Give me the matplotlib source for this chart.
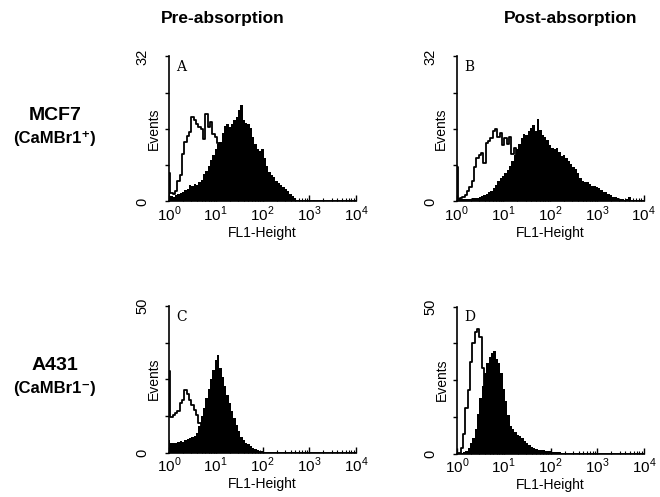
import numpy as np
import matplotlib
matplotlib.use("Agg")
import matplotlib.pyplot as plt

plt.rcParams['font.family'] = ['Liberation Sans', 'DejaVu Sans']
plt.rcParams['mathtext.fontset'] = 'custom'
plt.rcParams['mathtext.rm'] = 'Liberation Sans'

# channel positions in log10 decades (0 .. 4, 81 channels)
decades = np.linspace(0, 4, 81)

# panel A: MCF7, pre-absorption (open = control, filled = antibody)
a_open = [6.2, 1.8, 1.6, 2.4, 4.6, 5.8, 10.5, 13.2, 14.4, 15.3,
          18.6, 18.0, 17.2, 16.4, 16.0, 13.8, 19.2, 16.4, 17.6, 15.0,
          14.2, 13.0, 10.5, 7.5, 5.0, 3.4, 2.2, 1.5, 1.0, 0.7,
          0.5, 0.3, 0.2, 0.1, 0.1, 0.1, 0.0, 0.0, 0.0, 0.0,
          0.0, 0.0, 0.0, 0.0, 0.0, 0.0, 0.0, 0.0, 0.0, 0.0,
          0.0, 0.0, 0.0, 0.0, 0.0, 0.0, 0.0, 0.0, 0.0, 0.0,
          0.0, 0.0, 0.0, 0.0, 0.0, 0.0, 0.0, 0.0, 0.0, 0.0,
          0.0, 0.0, 0.0, 0.0, 0.0, 0.0, 0.0, 0.0, 0.0, 0.0, 0.0]
a_fill = [2.0, 1.2, 1.0, 1.5, 1.6, 1.8, 2.2, 2.5, 2.8, 3.6,
          3.5, 3.9, 3.6, 4.2, 4.8, 6.0, 6.8, 7.8, 9.2, 10.3,
          11.5, 12.6, 13.2, 15.2, 16.6, 17.2, 16.4, 17.1, 17.9, 18.6,
          20.2, 21.3, 18.0, 17.4, 17.0, 16.2, 14.3, 12.6, 11.6, 11.2,
          11.6, 9.6, 7.8, 6.6, 5.9, 5.3, 4.5, 4.0, 3.6, 3.3,
          2.8, 2.3, 1.7, 1.2, 0.7, 0.4, 0.3, 0.2, 0.2, 0.3,
          0.2, 0.2, 0.3, 0.2, 0.2, 0.2, 0.1, 0.2, 0.1, 0.1,
          0.1, 0.1, 0.1, 0.0, 0.1, 0.0, 0.0, 0.0, 0.0, 0.0, 0.0]

# panel B: MCF7, post-absorption
b_open = [7.6, 0.5, 0.7, 0.9, 1.4, 2.3, 3.3, 4.6, 7.6, 9.5,
          10.2, 10.6, 8.6, 12.8, 13.4, 14.0, 15.6, 15.9, 14.2, 15.1,
          12.4, 14.0, 12.6, 14.2, 10.5, 11.8, 6.5, 3.4, 2.2, 1.5,
          1.0, 0.7, 0.5, 0.4, 0.3, 0.2, 0.2, 0.1, 0.1, 0.1,
          0.0, 0.0, 0.0, 0.0, 0.0, 0.0, 0.0, 0.0, 0.0, 0.0,
          0.0, 0.0, 0.0, 0.0, 0.0, 0.0, 0.0, 0.0, 0.0, 0.0,
          0.0, 0.0, 0.0, 0.0, 0.0, 0.0, 0.0, 0.0, 0.0, 0.0,
          0.0, 0.0, 0.0, 0.0, 0.0, 0.0, 0.0, 0.0, 0.0, 0.0, 0.0]
b_fill = [0.4, 0.5, 0.5, 0.5, 0.5, 0.6, 0.6, 0.7, 0.7, 0.8,
          0.9, 1.2, 1.4, 1.7, 2.0, 2.4, 2.9, 3.7, 4.6, 5.2,
          5.7, 6.3, 7.0, 7.8, 8.9, 10.2, 11.5, 12.6, 14.0, 14.8,
          14.6, 15.5, 16.2, 16.9, 15.6, 18.1, 15.8, 14.6, 14.2, 13.6,
          12.5, 11.9, 11.6, 11.7, 11.0, 10.1, 10.3, 9.6, 9.0, 8.2,
          7.6, 7.1, 6.2, 5.2, 4.5, 4.3, 4.4, 3.8, 3.5, 3.5,
          3.3, 3.0, 2.5, 2.2, 2.0, 1.6, 1.4, 1.1, 0.9, 0.7,
          0.6, 0.5, 0.4, 0.5, 0.9, 0.3, 0.2, 0.2, 0.1, 0.1, 0.0]

# panel C: A431, pre-absorption
c_open = [27.7, 12.0, 12.9, 13.5, 14.0, 16.9, 18.0, 21.5, 20.0, 18.0,
          16.3, 14.5, 12.9, 10.0, 8.3, 5.0, 3.0, 2.0, 1.2, 0.8,
          0.6, 0.4, 0.3, 0.2, 0.1, 0.1, 0.0, 0.0, 0.0, 0.0,
          0.0, 0.0, 0.0, 0.0, 0.0, 0.0, 0.0, 0.0, 0.0, 0.0,
          0.0, 0.0, 0.0, 0.0, 0.0, 0.0, 0.0, 0.0, 0.0, 0.0,
          0.0, 0.0, 0.0, 0.0, 0.0, 0.0, 0.0, 0.0, 0.0, 0.0,
          0.0, 0.0, 0.0, 0.0, 0.0, 0.0, 0.0, 0.0, 0.0, 0.0,
          0.0, 0.0, 0.0, 0.0, 0.0, 0.0, 0.0, 0.0, 0.0, 0.0, 0.0]
c_fill = [4.3, 3.4, 3.2, 3.4, 3.6, 3.8, 3.7, 4.1, 4.5, 4.9,
          5.3, 5.8, 6.5, 9.0, 12.4, 15.2, 18.6, 21.8, 25.0, 28.3,
          31.5, 33.4, 29.0, 25.6, 22.6, 19.6, 16.8, 14.2, 11.8, 9.5,
          7.2, 5.4, 4.1, 3.3, 2.8, 2.2, 1.6, 1.1, 0.8, 0.5,
          0.4, 0.3, 0.3, 0.2, 0.2, 0.2, 0.2, 0.2, 0.2, 0.2,
          0.2, 0.1, 0.1, 0.1, 0.1, 0.1, 0.0, 0.0, 0.0, 0.0,
          0.0, 0.0, 0.0, 0.0, 0.0, 0.0, 0.0, 0.0, 0.0, 0.0,
          0.0, 0.0, 0.0, 0.0, 0.0, 0.0, 0.0, 0.0, 0.0, 0.0, 0.0]

# panel D: A431, post-absorption
d_open = [0.0, 0.3, 2.0, 6.5, 15.5, 21.5, 31.0, 37.5, 41.3, 42.2,
          39.5, 29.0, 20.0, 13.0, 8.0, 5.0, 3.2, 2.2, 1.5, 1.1,
          0.8, 0.5, 0.4, 0.3, 0.2, 0.1, 0.1, 0.0, 0.0, 0.0,
          0.0, 0.0, 0.0, 0.0, 0.0, 0.0, 0.0, 0.0, 0.0, 0.0,
          0.0, 0.0, 0.0, 0.0, 0.0, 0.0, 0.0, 0.0, 0.0, 0.0,
          0.0, 0.0, 0.0, 0.0, 0.0, 0.0, 0.0, 0.0, 0.0, 0.0,
          0.0, 0.0, 0.0, 0.0, 0.0, 0.0, 0.0, 0.0, 0.0, 0.0,
          0.0, 0.0, 0.0, 0.0, 0.0, 0.0, 0.0, 0.0, 0.0, 0.0, 0.0]
d_fill = [0.0, 0.0, 0.2, 0.4, 0.9, 2.0, 3.6, 5.2, 8.5, 13.5,
          19.0, 22.8, 27.5, 30.8, 32.8, 34.2, 34.9, 32.2, 30.8, 27.5,
          21.8, 18.0, 13.2, 9.3, 8.4, 7.2, 6.3, 5.9, 5.2, 4.3,
          3.6, 2.8, 2.3, 1.9, 1.5, 1.3, 1.2, 1.1, 0.9, 0.9,
          0.8, 0.6, 0.5, 0.5, 0.4, 0.3, 0.3, 0.2, 0.2, 0.2,
          0.2, 0.2, 0.2, 0.1, 0.1, 0.1, 0.1, 0.0, 0.0, 0.0,
          0.0, 0.0, 0.0, 0.0, 0.0, 0.0, 0.0, 0.0, 0.0, 0.0,
          0.0, 0.0, 0.0, 0.0, 0.0, 0.0, 0.0, 0.0, 0.0, 0.0, 0.0]

panels = [
    ("A", a_open, a_fill, 32, [169/660, 1 - 201.5/497, 187/660, 145/497]),
    ("B", b_open, b_fill, 32, [456.5/660, 1 - 201.5/497, 187/660, 145/497]),
    ("C", c_open, c_fill, 50, [169/660, 1 - 452.5/497, 187/660, 146.5/497]),
    ("D", d_open, d_fill, 50, [457/660, 1 - 453.5/497, 187/660, 147/497]),
]

fig = plt.figure(figsize=(6.6, 4.97), dpi=100)

for letter, yopen, yfill, ymax, rect in panels:
    ax = fig.add_axes(rect)
    ax.fill_between(decades, yfill, step="mid", color="black", lw=0)
    ax.plot(decades, yopen, drawstyle="steps-mid", color="black", lw=1.3)
    ax.set_xlim(0, 4)
    ax.set_ylim(0, ymax)
    for s in ["top", "right"]:
        ax.spines[s].set_visible(False)
    for s in ["left", "bottom"]:
        ax.spines[s].set_linewidth(1.2)

    ax.set_xticks([0, 1, 2, 3, 4])
    ax.set_xticklabels([r"$10^{%d}$" % k for k in range(5)], fontsize=11)
    minor = [n + np.log10(k) for n in range(4) for k in range(2, 10)]
    ax.set_xticks(minor, minor=True)
    ax.tick_params(axis="x", which="major", direction="in", length=4, width=1, pad=2)
    ax.tick_params(axis="x", which="minor", direction="in", length=2.5, width=0.8)

    ax.set_yticks([0, ymax / 4, ymax / 2, 3 * ymax / 4, ymax])
    ax.set_yticklabels(["0", "", "", "", str(ymax)], rotation=90, va="center", fontsize=10.5)
    ax.tick_params(axis="y", direction="out", length=3, width=1, pad=11)

    ax.set_ylabel("Events", fontsize=10)
    ax.yaxis.set_label_coords(-0.045, 0.5)
    ax.set_xlabel("FL1-Height", fontsize=10, labelpad=2)

    ax.text(0.04, 0.975, letter, transform=ax.transAxes, ha="left", va="top",
            fontsize=10, family="DejaVu Serif")

fig.text(223/660, 1 - 18/497, "Pre-absorption", ha="center", va="center",
         fontsize=12.5, fontweight="bold")
fig.text(571/660, 1 - 18/497, "Post-absorption", ha="center", va="center",
         fontsize=12.5, fontweight="bold")

fig.text(55/660, 1 - 115/497, "MCF7", ha="center", va="center",
         fontsize=14, fontweight="bold")
fig.text(55/660, 1 - 138/497, "(CaMBr1\u207a)", ha="center", va="center",
         fontsize=12, fontweight="bold")
fig.text(55/660, 1 - 365/497, "A431", ha="center", va="center",
         fontsize=14, fontweight="bold")
fig.text(55/660, 1 - 388/497, "(CaMBr1\u207b)", ha="center", va="center",
         fontsize=12, fontweight="bold")

fig.savefig("out.png", dpi=100)
